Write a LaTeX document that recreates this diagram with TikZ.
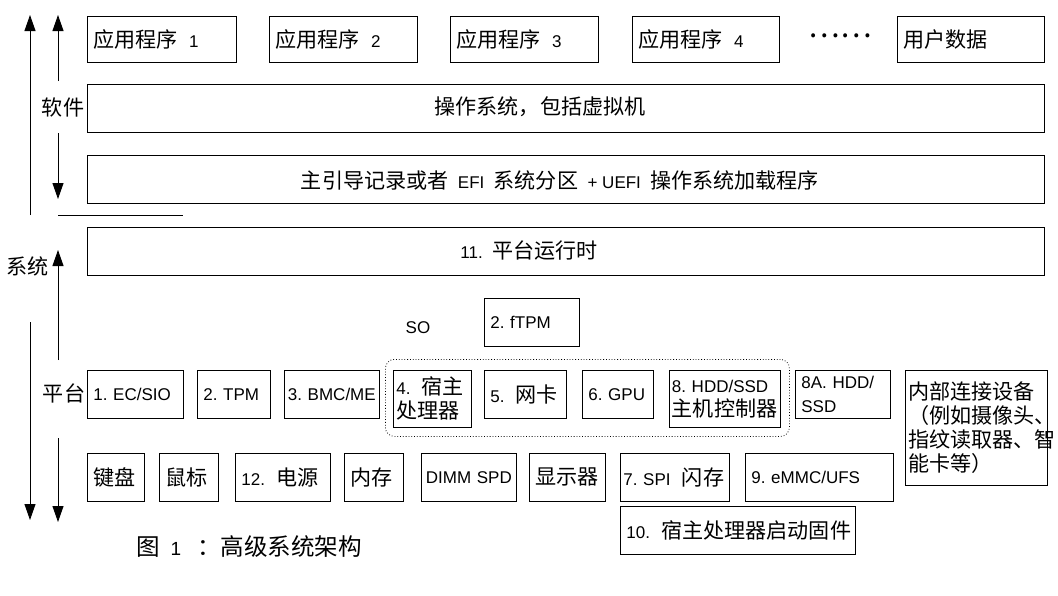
\documentclass[tikz,border=0pt]{standalone}
\usepackage{fontspec}
\setmainfont{Liberation Sans}
\newfontfamily\cjk[Scale=1.24]{Noto Sans CJK SC}
\newcommand{\zh}[1]{{\cjk #1}}
\usetikzlibrary{arrows.meta}
\frenchspacing

\begin{document}
\begin{tikzpicture}[x=1pt, y=-1pt, font=\fontsize{17pt}{24pt}\selectfont,
    box/.style={draw, line width=0.8pt, anchor=north west, align=left, inner xsep=6pt, inner ysep=0pt, minimum height=48pt},
    wide/.style={draw, line width=0.8pt, anchor=north west, minimum width=957pt, minimum height=48pt},
    grp/.style={draw, dotted, line width=0.8pt, rounded corners=9pt, anchor=north west},
    arr/.style={line width=0.9pt, -{Triangle[length=16pt, width=11pt]}}]
    \useasboundingbox (0,0) rectangle (1058,595);
    % Anwendungen
    \node[box, text width=137pt, minimum height=46pt] (app1) at (87,16) {\zh{应用程序}~~1};
    \node[box, text width=136pt, minimum height=46pt] (app2) at (269,16) {\zh{应用程序}~~2};
    \node[box, text width=136pt, minimum height=46pt] (app3) at (450,16) {\zh{应用程序}~~3};
    \node[box, text width=135pt, minimum height=46pt] (app4) at (632,16) {\zh{应用程序}~~4};
    \node (dots) at (840,36) {\cjk\fontsize{24pt}{24pt}\selectfont ……};
    \node[box, text width=135pt, minimum height=46pt] (data) at (897,16) {\zh{用户数据}};
    % breite Schichten
    \node[wide] (os) at (87,84) {};
    \node (ostxt) at (540,107) {\zh{操作系统，包括虚拟机}};
    \node[wide] (mbr) at (87,155) {};
    \node (mbrtxt) at (560,180) {\zh{主引导记录或者}~~EFI~~\zh{系统分区}~~+~UEFI~~\zh{操作系统加载程序}};
    \node[wide] (rt) at (87,227) {};
    \node (rttxt) at (529,250) {11.~~\zh{平台运行时}};
    % SoC
    \node (so) at (418,328) {SO};
    \node[box, text width=83pt] (ftpm) at (484,298) {2. fTPM};
    \node[grp, minimum width=404pt, minimum height=77pt] (soc) at (385,359) {};
    % Plattform, obere Reihe
    \node[box, text width=84pt] (ecsio) at (87,370) {1. EC/SIO};
    \node[box, text width=61pt] (tpm) at (197,370) {2. TPM};
    \node[box, text width=88pt, inner xsep=3.5pt] (bmc) at (284,370) {3. BMC/ME};
    \node[box, text width=72pt, inner xsep=3pt, minimum height=57pt] (cpu) at (393,370) {4.~~\zh{宿主}\\\zh{处理器}};
    \node[box, text width=70pt] (nic) at (484,370) {5.~~\zh{网卡}};
    \node[box, text width=59pt] (gpu) at (582,370) {6. GPU};
    \node[box, text width=106pt, inner xsep=2.5pt, minimum height=57pt] (hddc) at (669,370) {8. HDD/SSD\\\zh{主机控制器}};
    \node[box, text width=83pt] (hdd) at (795,370) {8A. HDD/\\SSD};
    \node[box, text width=136pt, inner xsep=3pt, minimum height=115pt] (intdev) at (905,370)
        {\zh{内部连接设备}\\\zh{（例如摄像头、}\\\zh{指纹读取器、智}\\\zh{能卡等）}};
    % Plattform, untere Reihe
    \node[box, text width=45pt] (kbd) at (87,453) {\zh{键盘}};
    \node[box, text width=47pt] (mouse) at (159,453) {\zh{鼠标}};
    \node[box, text width=83pt] (power) at (235,453) {12.~~\zh{电源}};
    \node[box, text width=47pt] (mem) at (344,453) {\zh{内存}};
    \node[box, text width=86pt, inner xsep=4.5pt] (spd) at (421,453) {DIMM SPD};
    \node[box, text width=64pt] (disp) at (529,453) {\zh{显示器}};
    \node[box, text width=103pt, inner xsep=3pt] (spi) at (620,453) {7. SPI~~\zh{闪存}};
    \node[box, text width=136pt] (emmc) at (745,453) {9. eMMC/UFS};
    \node[box, text width=223pt] (boot) at (620,506) {10.~~\zh{宿主处理器启动固件}};
    % Ebenen links
    \node (sw) at (63,107) {\zh{软件}};
    \node (sys) at (28,266) {\zh{系统}};
    \node (plat) at (64,393) {\zh{平台}};
    \coordinate (outA) at (30,215);
    \coordinate (outB) at (30,15);
    \coordinate (outC) at (30,322);
    \coordinate (outD) at (30,520);
    \coordinate (inA) at (58,81);
    \coordinate (inB) at (58,15);
    \coordinate (inC) at (58,133);
    \coordinate (inD) at (58,199);
    \coordinate (inE) at (58,360);
    \coordinate (inF) at (58,250);
    \coordinate (inG) at (58,438);
    \coordinate (inH) at (58,522);
    \coordinate (sepL) at (58,215);
    \coordinate (sepR) at (183,215);
    \draw[arr] (outA) -- (outB);
    \draw[arr] (outC) -- (outD);
    \draw[arr] (inA) -- (inB);
    \draw[arr] (inC) -- (inD);
    \draw[arr] (inE) -- (inF);
    \draw[arr] (inG) -- (inH);
    \draw[line width=0.8pt] (sepL) -- (sepR);
    % Bildunterschrift
    \node[anchor=west, font=\fontsize{19pt}{24pt}\selectfont] (cap) at (133,547) {\zh{图}~~1~~~\zh{：高级系统架构}};
\end{tikzpicture}
\end{document}
